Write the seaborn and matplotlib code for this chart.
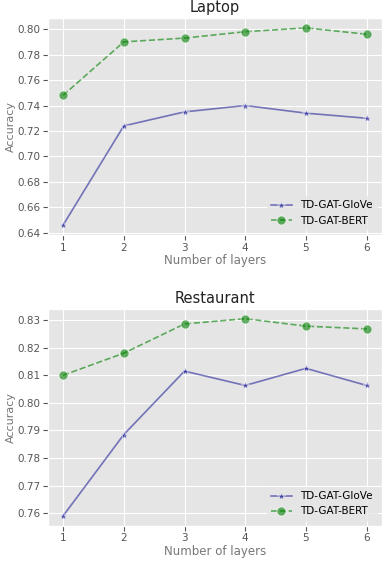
import matplotlib
matplotlib.use("Agg")
import matplotlib.pyplot as plt
import seaborn as sns
import pandas as pd

layers = [1, 2, 3, 4, 5, 6]

laptop_glove = [0.646, 0.724, 0.735, 0.740, 0.734, 0.730]
laptop_bert = [0.748, 0.790, 0.793, 0.798, 0.801, 0.796]

rest_glove = [0.759, 0.7885, 0.8115, 0.8063, 0.8125, 0.8063]
rest_bert = [0.810, 0.818, 0.8286, 0.8305, 0.8278, 0.8268]

plt.style.use("ggplot")

fig, axes = plt.subplots(2, 1, figsize=(3.83, 5.63), dpi=100)

panels = [
    ("Laptop", laptop_glove, laptop_bert, [0.64, 0.66, 0.68, 0.70, 0.72, 0.74, 0.76, 0.78, 0.80]),
    ("Restaurant", rest_glove, rest_bert, [0.76, 0.77, 0.78, 0.79, 0.80, 0.81, 0.82, 0.83]),
]

for ax, (title, glove, bert, yticks) in zip(axes, panels):
    df = pd.DataFrame({"layers": layers, "glove": glove, "bert": bert})
    sns.lineplot(data=df, x="layers", y="glove", ax=ax, color="darkblue", alpha=0.5,
                 marker="*", markersize=6, linewidth=1.2, label="TD-GAT-GloVe")
    sns.lineplot(data=df, x="layers", y="bert", ax=ax, color="green", alpha=0.6,
                 marker="o", markersize=6.5, linewidth=1.2, linestyle="--", label="TD-GAT-BERT")
    ax.set_title(title, fontsize=10.5, color="#222222", pad=4)
    ax.set_xlabel("Number of layers", fontsize=8.5, color="#777777", labelpad=1)
    ax.set_ylabel("Accuracy", fontsize=8, color="#777777", labelpad=1)
    ax.set_xticks(layers)
    ax.set_yticks(yticks)
    ax.set_yticklabels(["{:.2f}".format(v) for v in yticks])
    ax.tick_params(labelsize=7.5, colors="#555555", pad=2)
    ax.legend(loc="lower right", fontsize=7.5, facecolor="#e5e5e5", edgecolor="#e5e5e5")

fig.subplots_adjust(left=0.125, right=0.997, top=0.968, bottom=0.066, hspace=0.34)
fig.savefig("out.png", dpi=100)
